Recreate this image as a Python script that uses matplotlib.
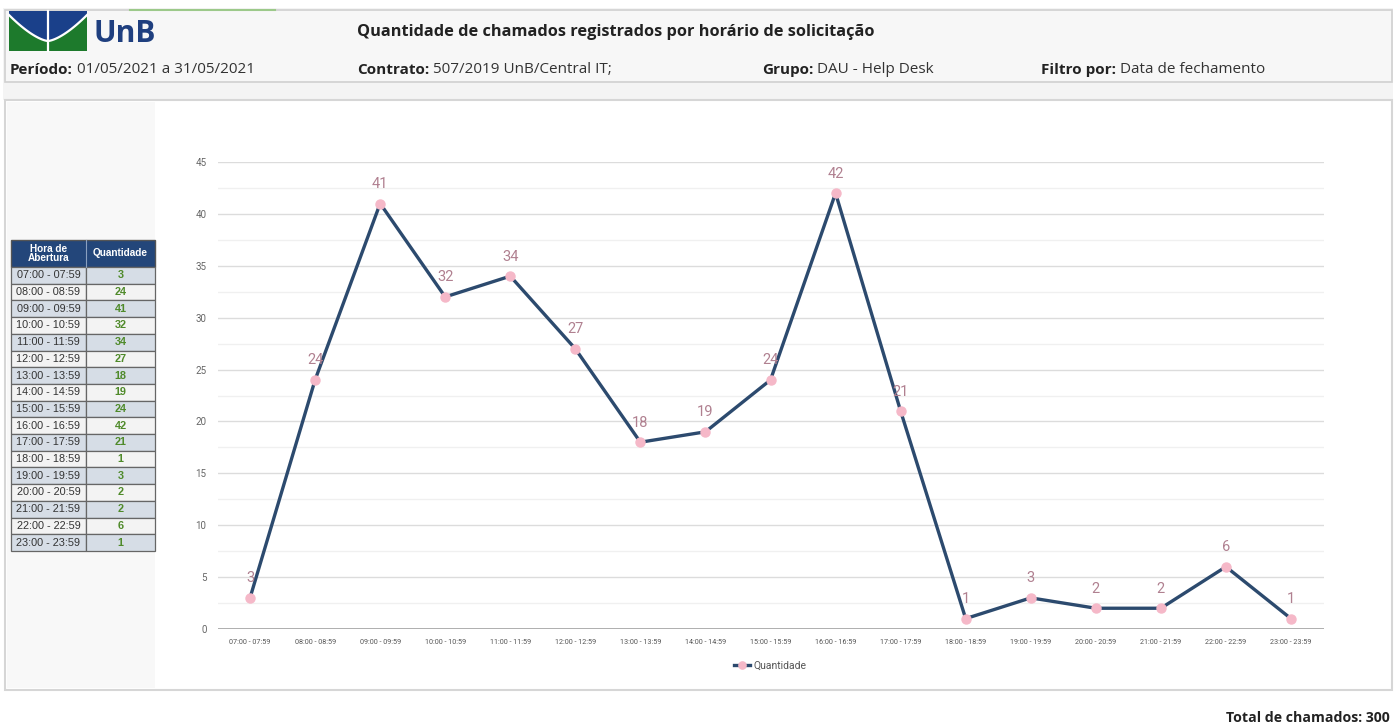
import matplotlib
matplotlib.use("Agg")
import matplotlib.pyplot as plt
from matplotlib.patches import Rectangle, Polygon
import numpy as np

# chamados por faixa de horário
faixas = ["07:00 - 07:59", "08:00 - 08:59", "09:00 - 09:59", "10:00 - 10:59",
          "11:00 - 11:59", "12:00 - 12:59", "13:00 - 13:59", "14:00 - 14:59",
          "15:00 - 15:59", "16:00 - 16:59", "17:00 - 17:59", "18:00 - 18:59",
          "19:00 - 19:59", "20:00 - 20:59", "21:00 - 21:59", "22:00 - 22:59",
          "23:00 - 23:59"]
quantidade = [3, 24, 41, 32, 34, 27, 18, 19, 24, 42, 21, 1, 3, 2, 2, 6, 1]
y_ticks = [0, 5, 10, 15, 20, 25, 30, 35, 40, 45]

titulo = "Quantidade de chamados registrados por horário de solicitação"
cabecalho = [("Período:", " 01/05/2021 a 31/05/2021"),
             ("Contrato:", " 507/2019 UnB/Central IT;"),
             ("Grupo:", " DAU - Help Desk"),
             ("Filtro por:", " Data de fechamento")]

W, H = 1397, 728
fig = plt.figure(figsize=(W / 100, H / 100), dpi=100)
fig.patch.set_facecolor("white")

# camada de fundo em pixels
bg = fig.add_axes([0, 0, 1, 1])
bg.set_xlim(0, W)
bg.set_ylim(H, 0)
bg.axis("off")

HDR_FONT = ["Open Sans", "DejaVu Sans"]

# faixa cinza entre cabeçalho e painel
bg.add_patch(Rectangle((3, 8), 1390, 92, facecolor="#f4f4f4", edgecolor="none"))
# caixa do cabeçalho
bg.add_patch(Rectangle((5, 10), 1387, 72, facecolor="#f7f7f7", edgecolor="#d0d0d0", lw=1.2))
bg.plot([130, 275], [10, 10], color="#9cc98a", lw=1.5)

# logo UnB
bg.add_patch(Rectangle((9, 11), 78, 40, facecolor="#1d7a2c", edgecolor="none"))
cx = np.linspace(9, 87, 60)
cy = 41 - 26 * np.abs((cx - 48) / 39) ** 1.5
bg.add_patch(Polygon(np.column_stack([np.r_[cx, 87, 9], np.r_[cy, 11, 11]]),
                     facecolor="#1a408a", edgecolor="none"))
bg.plot(cx, cy, color="white", lw=1.6)
bg.plot([48, 48], [11, 51], color="white", lw=1.6)
bg.text(93, 34, "UnB", fontsize=21.5, fontweight="bold", color="#1f3f7f",
        family=HDR_FONT, va="center", ha="left")

bg.text(357, 32, titulo, fontsize=11.8, fontweight="bold", color="#222222",
        family=HDR_FONT, va="center", ha="left")
for (rot, val), x in zip(cabecalho, [10, 357, 762, 1041]):
    t = bg.text(x, 74, rot, fontsize=11, fontweight="bold", color="#222222",
                family=HDR_FONT, va="baseline", ha="left")
    bg.annotate(val, xy=(1, 0), xycoords=t, fontsize=11, color="#333333",
                family=HDR_FONT, va="bottom", ha="left")

# painel principal
bg.add_patch(Rectangle((5, 100), 1387, 590, facecolor="white", edgecolor="#d6d6d6", lw=1.5))
bg.add_patch(Rectangle((7, 102), 148, 586, facecolor="#f8f8f8", edgecolor="none"))

# tabela lateral
TAB_FONT = ["Liberation Sans", "DejaVu Sans"]
x0, x1, x2 = 11, 86, 155
y_hdr, h_hdr, h_row = 240, 27, 16.7
bg.add_patch(Rectangle((x0, y_hdr), x2 - x0, h_hdr, facecolor="#23467a",
                       edgecolor="#555555", lw=1))
bg.plot([x1, x1], [y_hdr, y_hdr + h_hdr], color="#8aa0c0", lw=0.8)
bg.text((x0 + x1) / 2, y_hdr + h_hdr / 2, "Hora de\nAbertura", fontsize=7.2,
        fontweight="bold", color="white", family=TAB_FONT, ha="center",
        va="center", linespacing=0.9)
bg.text((x1 + x2) / 2, y_hdr + h_hdr / 2, "Quantidade", fontsize=7.2,
        fontweight="bold", color="white", family=TAB_FONT, ha="center", va="center")
for i, (f, q) in enumerate(zip(faixas, quantidade)):
    y = y_hdr + h_hdr + i * h_row
    fc = "#d6dde6" if i % 2 == 0 else "#f3f3f3"
    bg.add_patch(Rectangle((x0, y), x1 - x0, h_row, facecolor=fc, edgecolor="#666666", lw=0.9))
    bg.add_patch(Rectangle((x1, y), x2 - x1, h_row, facecolor=fc, edgecolor="#666666", lw=0.9))
    bg.text((x0 + x1) / 2, y + h_row / 2, f, fontsize=7.8, color="#333333",
            family=TAB_FONT, ha="center", va="center")
    bg.text((x1 + x2) / 2, y + h_row / 2, str(q), fontsize=7.8, color="#4f8a2a",
            fontweight="bold", family=TAB_FONT, ha="center", va="center")

# gráfico de linha
left, right = 217.5 / W, 1323.5 / W
bottom, top = (H - 629) / H, (H - 162) / H
ax = fig.add_axes([left, bottom, right - left, top - bottom])
ax.set_facecolor("none")
x = np.arange(len(quantidade))
ax.set_xlim(-0.5, len(quantidade) - 0.5)
ax.set_ylim(0, 45)
for s in ax.spines.values():
    s.set_visible(False)
for v in np.arange(2.5, 45, 5):
    ax.axhline(v, color="#f0f0f0", lw=1.0, zorder=0)
for v in y_ticks[1:]:
    ax.axhline(v, color="#dcdcdc", lw=1.0, zorder=0)
ax.axhline(0, color="#a8a8a8", lw=1.3, zorder=1)

ax.plot(x, quantidade, color="#2c4a6e", lw=2.4, marker="o", markersize=6.5,
        markerfacecolor="#f5b8c8", markeredgecolor="#f5b8c8", zorder=3,
        label="Quantidade", clip_on=False)
for xi, q in zip(x, quantidade):
    ax.annotate(str(q), (xi, q), xytext=(0, 9), textcoords="offset points",
                ha="center", va="bottom", fontsize=10.5, color="#b08090",
                family=["Roboto", "DejaVu Sans"], zorder=4)

ax.set_yticks(y_ticks)
ax.set_xticks(x)
ax.set_xticklabels(faixas)
ax.tick_params(axis="y", length=0, pad=8, labelsize=7, labelcolor="#666666")
ax.tick_params(axis="x", length=0, pad=7, labelsize=5.2, labelcolor="#555555")
for lab in ax.get_xticklabels() + ax.get_yticklabels():
    lab.set_family(["Roboto", "DejaVu Sans"])

leg = ax.legend(loc="center", bbox_to_anchor=(770 / W, (H - 666) / H),
                bbox_transform=fig.transFigure, frameon=False, fontsize=7.5,
                handlelength=1.6, handletextpad=0.3, markerscale=0.8)
for t in leg.get_texts():
    t.set_color("#555555")
    t.set_family(["Roboto", "DejaVu Sans"])

bg.text(1390, 718, f"Total de chamados: {sum(quantidade)}", fontsize=10.2,
        fontweight="bold", color="#222222", family=HDR_FONT, ha="right", va="center")

fig.savefig("out.png", dpi=100)
